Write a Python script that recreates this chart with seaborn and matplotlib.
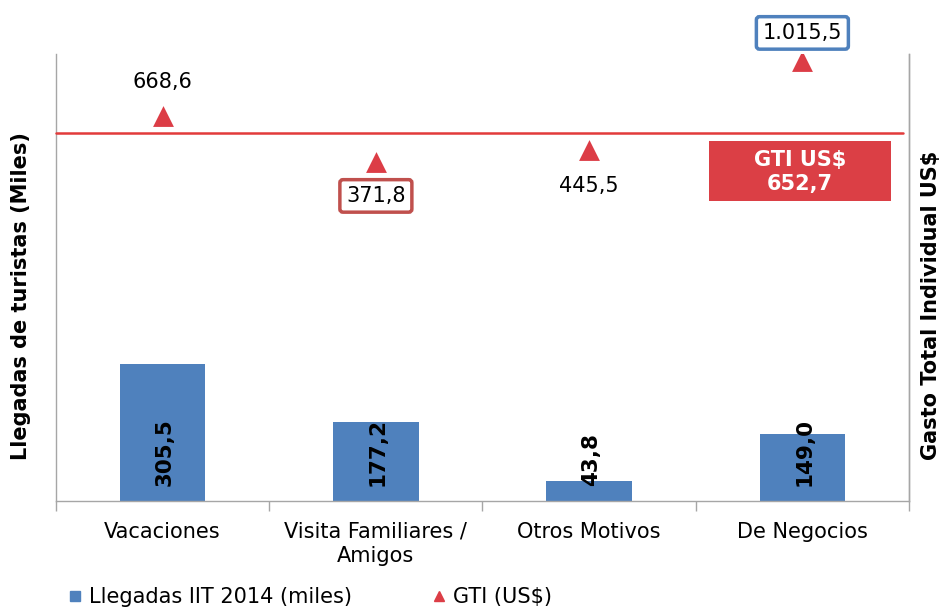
import numpy as np
import pandas as pd
import matplotlib
matplotlib.use("Agg")
import matplotlib.pyplot as plt
import seaborn as sns
from matplotlib.lines import Line2D
from matplotlib.patches import Rectangle

# ---------------- data ----------------
categories = ["Vacaciones", "Visita Familiares /\nAmigos", "Otros Motivos", "De Negocios"]
llegadas = [305.5, 177.2, 43.8, 149.0]
llegadas_labels = ["305,5", "177,2", "43,8", "149,0"]
gti = [668.6, 371.8, 445.5, 1015.5]
gti_labels = ["668,6", "371,8", "445,5", "1.015,5"]
gti_promedio_label = "GTI US$\n652,7"
legend_labels = ["Llegadas IIT 2014 (miles)", "GTI (US$)"]
y_left_label = "Llegadas de turistas (Miles)"
y_right_label = "Gasto Total Individual US$"

# ---------------- style ----------------
BLUE = "#4F81BD"
RED = "#DC3D46"
GREY = "#A6A6A6"

sns.set_theme(style="white")
plt.rcParams["font.family"] = ["DejaVu Sans"]
plt.rcParams["text.color"] = "black"
plt.rcParams["xtick.color"] = "black"
plt.rcParams["axes.labelcolor"] = "black"

W, H = 944, 608
fig = plt.figure(figsize=(W / 100, H / 100), dpi=100)
ax = fig.add_axes([56 / W, 107 / H, 853 / W, 447 / H])

df = pd.DataFrame({"cat": categories, "llegadas": llegadas})
sns.barplot(data=df, x="cat", y="llegadas", color=BLUE, saturation=1,
            width=0.4, linewidth=0, ax=ax)
ax.set_xlim(-0.5, len(categories) - 0.5)
ax.set_ylim(0, 1000)
ax.set_xlabel("")
ax.set_ylabel("")
ax.set_yticks([])

# category ticks: boundaries as major ticks, labels on minor positions
ax.set_xticks(np.arange(len(categories) + 1) - 0.5)
ax.set_xticklabels([""] * (len(categories) + 1))
ax.set_xticks(np.arange(len(categories)), minor=True)
ax.set_xticklabels(categories, minor=True, fontsize=15, color="black",
                   linespacing=1.25)
ax.tick_params(axis="x", which="major", bottom=True, length=7, width=1,
               color=GREY, direction="out")
ax.tick_params(axis="x", which="minor", bottom=True, length=0, pad=15)

ax.spines["top"].set_visible(False)
for s in ["left", "right", "bottom"]:
    ax.spines[s].set_color(GREY)
    ax.spines[s].set_linewidth(1)

# bar value labels (rotated, at bar foot)
for i, lab in enumerate(llegadas_labels):
    ax.annotate(lab, xy=(i, 0), xytext=(2, 15), textcoords="offset pixels",
                rotation=90, ha="center", va="bottom", fontsize=15.5,
                fontweight="bold", color="black")

# average line
ax.plot([0, 0.993], [0.823, 0.823], transform=ax.transAxes, color="#E23B3B",
        lw=1.8, clip_on=False, zorder=3)

# ---------------- secondary axis: GTI ----------------
ax2 = ax.twinx()
sns.scatterplot(x=np.arange(len(gti)), y=gti, marker="^", s=225, color=RED,
                linewidth=0, ax=ax2, legend=False, zorder=4)
ax2.set_ylim(-1800, 1063)
ax2.set_yticks([])
ax2.set_ylabel("")
for s in ["top", "left", "bottom"]:
    ax2.spines[s].set_visible(False)
ax2.spines["right"].set_color(GREY)
ax2.spines["right"].set_linewidth(1)

label_offsets = [34, -34, -35.5, 28.5]
label_boxes = [None,
               dict(boxstyle="round,pad=0.3,rounding_size=0.15", fc="white", ec="#C0504D", lw=2.5),
               None,
               dict(boxstyle="round,pad=0.3,rounding_size=0.15", fc="white", ec=BLUE, lw=2.5)]
for i, (val, lab) in enumerate(zip(gti, gti_labels)):
    ax2.annotate(lab, xy=(i, val), xytext=(0, label_offsets[i]),
                 textcoords="offset pixels", ha="center", va="center",
                 fontsize=15, color="black", bbox=label_boxes[i],
                 annotation_clip=False)

# GTI average box
ax2.add_patch(Rectangle((0.7655, 0.671), 0.2134, 0.134, transform=ax2.transAxes,
                        facecolor="#DB3F45", edgecolor="none", zorder=5))
ax2.text(0.872, 0.736, gti_promedio_label, transform=ax2.transAxes,
         ha="center", va="center", color="white", fontweight="bold",
         fontsize=15, linespacing=1.25, zorder=6)

# axis titles
fig.text(21 / W, 1 - 296 / H, y_left_label, rotation=90, ha="center",
         va="center", fontweight="bold", fontsize=15, color="black")
fig.text(931 / W, 1 - 305 / H, y_right_label, rotation=90, ha="center",
         va="center", fontweight="bold", fontsize=15, color="black")

# legend
handles = [Line2D([], [], marker="s", color=BLUE, linestyle="none", markersize=7),
           Line2D([], [], marker="^", color=RED, linestyle="none", markersize=7)]
leg = fig.legend(handles=handles, labels=legend_labels, loc="center left",
                 bbox_to_anchor=(68 / W, 1 - 597 / H), ncol=2, frameon=False,
                 fontsize=15, handlelength=0.7, handletextpad=0.3,
                 columnspacing=3.85, borderpad=0, borderaxespad=0)
for t in leg.get_texts():
    t.set_color("black")

fig.savefig("out.png", dpi=100)
